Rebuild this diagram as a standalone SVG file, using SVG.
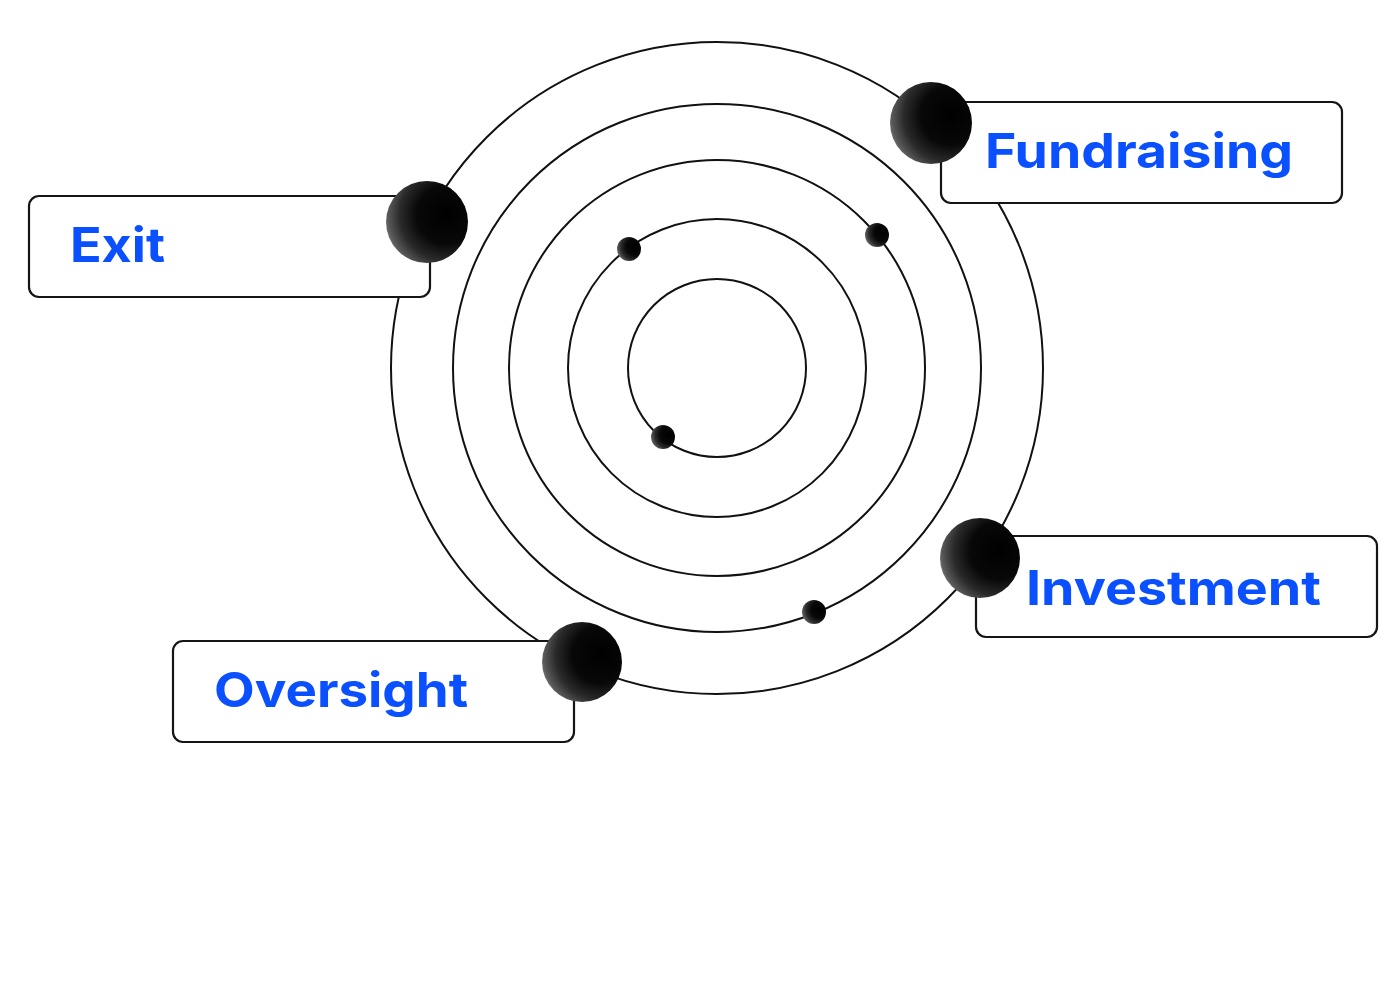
<svg xmlns="http://www.w3.org/2000/svg" width="1400" height="1000" viewBox="0 0 1400 1000">
<defs>
<radialGradient id="ball" cx="0.72" cy="0.42" r="0.8" fx="0.75" fy="0.4">
<stop offset="0" stop-color="#000"/>
<stop offset="0.45" stop-color="#080808"/>
<stop offset="0.7" stop-color="#2a2a2a"/>
<stop offset="0.88" stop-color="#5a5a5a"/>
<stop offset="1" stop-color="#9a9a9a"/>
</radialGradient>
<style>
.orbit{fill:none;stroke:#111;stroke-width:2}
.box{fill:#fff;stroke:#151515;stroke-width:2.2}
.ball{fill:url(#ball)}
.lbl{font-family:Inter,"Open Sans","Liberation Sans",sans-serif;font-weight:700;font-size:48px;fill:#0a50ff}
</style>
</defs>
<rect width="1400" height="1000" fill="#fff"/>
<g id="orbits">
<circle class="orbit" cx="717" cy="368" r="326"/>
<circle class="orbit" cx="717" cy="368" r="264"/>
<circle class="orbit" cx="717" cy="368" r="208"/>
<circle class="orbit" cx="717" cy="368" r="149"/>
<circle class="orbit" cx="717" cy="368" r="89"/>
</g>
<g id="small-balls">
<circle class="ball" cx="629" cy="249" r="12"/>
<circle class="ball" cx="877" cy="235" r="12"/>
<circle class="ball" cx="663" cy="437" r="12"/>
<circle class="ball" cx="814" cy="612" r="12"/>
</g>
<g id="node-fundraising">
<rect class="box" x="941" y="102" width="401" height="101" rx="10"/>
<circle class="ball" cx="931" cy="123" r="41"/>
<text class="lbl" x="985" y="168" textLength="308" lengthAdjust="spacingAndGlyphs">Fundraising</text>
</g>
<g id="node-exit">
<rect class="box" x="29" y="196" width="401" height="101" rx="10"/>
<circle class="ball" cx="427" cy="222" r="41"/>
<text class="lbl" x="70" y="262" textLength="95" lengthAdjust="spacingAndGlyphs">Exit</text>
</g>
<g id="node-oversight">
<rect class="box" x="173" y="641" width="401" height="101" rx="10"/>
<circle class="ball" cx="582" cy="662" r="40"/>
<text class="lbl" x="214" y="707" textLength="254" lengthAdjust="spacingAndGlyphs">Oversight</text>
</g>
<g id="node-investment">
<rect class="box" x="976" y="536" width="401" height="101" rx="10"/>
<circle class="ball" cx="980" cy="558" r="40"/>
<text class="lbl" x="1026" y="605" textLength="295" lengthAdjust="spacingAndGlyphs">Investment</text>
</g>
</svg>
